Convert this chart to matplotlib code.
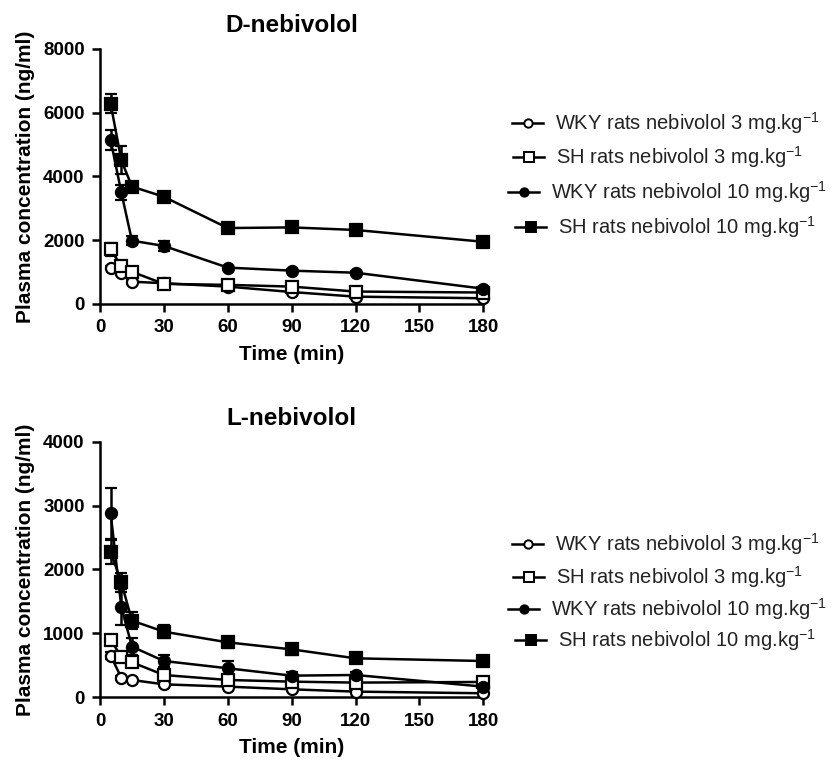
import matplotlib
matplotlib.use("Agg")
import matplotlib.pyplot as plt
from matplotlib.lines import Line2D

plt.rcParams['font.family'] = ['Liberation Sans', 'DejaVu Sans']
plt.rcParams['mathtext.fontset'] = 'custom'
plt.rcParams['mathtext.rm'] = 'Liberation Sans'

time = [5, 10, 15, 30, 60, 90, 120, 180]

# D-nebivolol
d_wky3 = [1140, 960, 700, 650, 545, 375, 230, 180]
d_wky3_err = [50, 60, 60, 40, 40, 40, 30, 30]
d_sh3 = [1710, 1190, 1010, 630, 600, 545, 390, 360]
d_sh3_err = [200, 100, 80, 50, 40, 40, 40, 30]
d_wky10 = [5140, 3500, 1985, 1820, 1140, 1045, 980, 480]
d_wky10_err = [300, 230, 150, 150, 60, 60, 60, 50]
d_sh10 = [6270, 4510, 3680, 3360, 2380, 2400, 2320, 1950]
d_sh10_err = [300, 450, 150, 80, 60, 60, 60, 60]

# L-nebivolol
l_wky3 = [652, 308, 271, 203, 167, 125, 89, 63]
l_wky3_err = [50, 30, 20, 20, 20, 20, 20, 10]
l_sh3 = [897, 636, 548, 349, 271, 245, 230, 240]
l_sh3_err = [80, 60, 50, 40, 30, 30, 30, 30]
l_wky10 = [2879, 1418, 793, 568, 454, 339, 349, 167]
l_wky10_err = [400, 280, 130, 100, 110, 60, 40, 30]
l_sh10 = [2279, 1800, 1200, 1027, 860, 750, 610, 568]
l_sh10_err = [190, 150, 130, 100, 90, 85, 75, 40]

labels = ["WKY rats nebivolol 3 mg.kg$^{\\mathregular{-1}}$",
          "SH rats nebivolol 3 mg.kg$^{\\mathregular{-1}}$",
          "WKY rats nebivolol 10 mg.kg$^{\\mathregular{-1}}$",
          "SH rats nebivolol 10 mg.kg$^{\\mathregular{-1}}$"]
styles = [dict(marker='o', mfc='white', ms=8),
          dict(marker='s', mfc='white', ms=8.5),
          dict(marker='o', mfc='black', ms=8),
          dict(marker='s', mfc='black', ms=9)]
# small horizontal stagger of legend rows (pixels)
legend_dx = [0, 1, -4, 3]

fig = plt.figure(figsize=(8.4, 7.62), dpi=100)
W, H = 840, 762

def px_axes(l, t, r, b):
    return fig.add_axes([l / W, 1 - b / H, (r - l) / W, (b - t) / H])

panels = [
    dict(rect=(100, 48.7, 483.3, 304), title="D-nebivolol", ymax=8000,
         yticks=[0, 2000, 4000, 6000, 8000],
         data=[(d_wky3, d_wky3_err), (d_sh3, d_sh3_err), (d_wky10, d_wky10_err), (d_sh10, d_sh10_err)],
         legend_y=[123, 157, 192, 227]),
    dict(rect=(100, 441.7, 483.3, 697.3), title="L-nebivolol", ymax=4000,
         yticks=[0, 1000, 2000, 3000, 4000],
         data=[(l_wky3, l_wky3_err), (l_sh3, l_sh3_err), (l_wky10, l_wky10_err), (l_sh10, l_sh10_err)],
         legend_y=[544, 577, 609, 640]),
]

for p in panels:
    ax = px_axes(*p['rect'])
    for (vals, errs), st in zip(p['data'], styles):
        ax.errorbar(time, vals, yerr=errs, color='black', lw=1.8, elinewidth=1.8,
                    capsize=4.5, capthick=2.0, mec='black', mew=1.6,
                    clip_on=False, zorder=3, **st)
    ax.set_xlim(0, 180)
    ax.set_ylim(0, p['ymax'])
    ax.set_xticks([0, 30, 60, 90, 120, 150, 180])
    ax.set_yticks(p['yticks'])
    for s in ['top', 'right']:
        ax.spines[s].set_visible(False)
    for s in ['left', 'bottom']:
        ax.spines[s].set_linewidth(1.8)
    ax.tick_params(direction='out', length=6, width=1.8, labelsize=13.5, pad=5)
    for t in ax.get_xticklabels() + ax.get_yticklabels():
        t.set_fontweight('bold')
    ax.set_title(p['title'], fontsize=17.5, fontweight='bold', pad=12)
    ax.set_xlabel("Time (min)", fontsize=15, fontweight='bold', labelpad=6)
    ax.set_ylabel("Plasma concentration (ng/ml)", fontsize=15, fontweight='bold', labelpad=6)

    for yy, lab, st, dx in zip(p['legend_y'], labels, styles, legend_dx):
        fy = 1 - yy / H
        ln = Line2D([(512 + dx) / W, (543 + dx) / W], [fy, fy], transform=fig.transFigure,
                    color='black', lw=1.8)
        fig.add_artist(ln)
        mk = Line2D([(527.5 + dx) / W], [fy], transform=fig.transFigure, color='black',
                    ls='none', mec='black', mew=1.4,
                    marker=st['marker'], mfc=st['mfc'], ms=st['ms'] - 2)
        fig.add_artist(mk)
        fig.text((555 + dx) / W, fy, lab, fontsize=14.5, va='center', ha='left', color='#222222')

fig.savefig("out.png", dpi=100)
